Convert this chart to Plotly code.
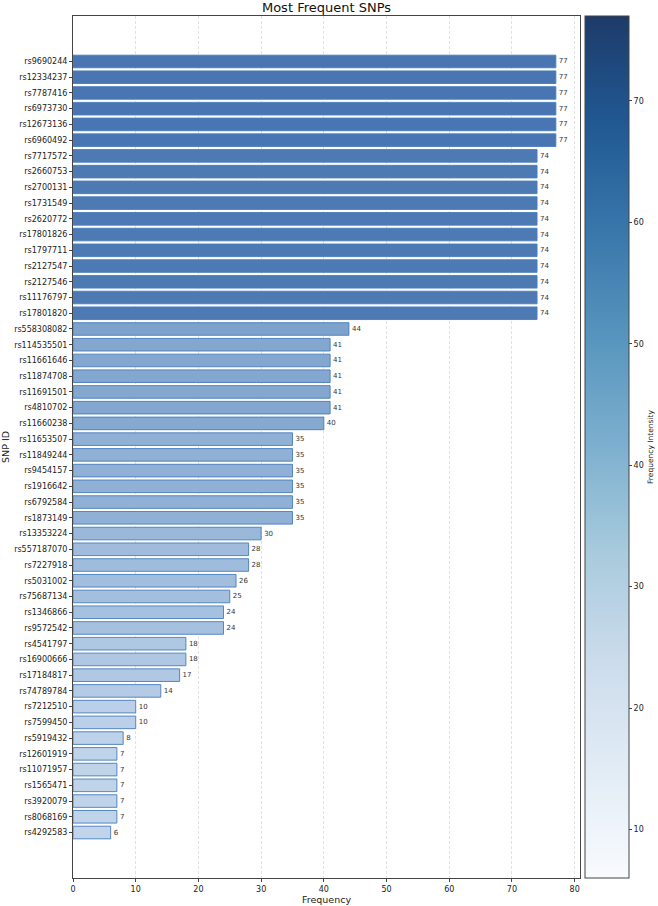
import plotly.graph_objects as go

snps = ["rs9690244","rs12334237","rs7787416","rs6973730","rs12673136","rs6960492",
        "rs7717572","rs2660753","rs2700131","rs1731549","rs2620772","rs17801826",
        "rs1797711","rs2127547","rs2127546","rs11176797","rs17801820","rs558308082",
        "rs114535501","rs11661646","rs11874708","rs11691501","rs4810702","rs11660238",
        "rs11653507","rs11849244","rs9454157","rs1916642","rs6792584","rs1873149",
        "rs13353224","rs557187070","rs7227918","rs5031002","rs75687134","rs1346866",
        "rs9572542","rs4541797","rs16900666","rs17184817","rs74789784","rs7212510",
        "rs7599450","rs5919432","rs12601919","rs11071957","rs1565471","rs3920079",
        "rs8068169","rs4292583"]
freqs = [77,77,77,77,77,77,
         74,74,74,74,74,74,74,74,74,74,74,
         44,41,41,41,41,41,40,
         35,35,35,35,35,35,
         30,28,28,26,25,24,24,18,18,17,14,10,10,8,7,7,7,7,7,6]

FONT = "DejaVu Sans"
vmin, vmax = min(freqs), max(freqs)

bar_scale = [[0.0, "rgb(193,212,234)"], [0.3, "rgb(160,189,221)"],
             [0.53, "rgb(126,163,204)"], [1.0, "rgb(73,118,178)"]]
blues_hex = [(0.0, "#f7fbff"), (0.125, "#deebf7"), (0.25, "#c6dbef"), (0.375, "#9ecae1"),
             (0.5, "#6baed6"), (0.625, "#4292c6"), (0.75, "#2171b5"), (0.875, "#08519c"),
             (1.0, "#08306b")]


def muted(h, g_mix=0.18, w_mix=0.06):
    r, g, b = int(h[1:3], 16), int(h[3:5], 16), int(h[5:7], 16)
    lum = 0.3 * r + 0.59 * g + 0.11 * b
    f = lambda c: int(round((c * (1 - g_mix) + lum * g_mix) * (1 - w_mix) + 255 * w_mix))
    return f"rgb({f(r)},{f(g)},{f(b)})"


blues = [[p, muted(h)] for p, h in blues_hex]

n = len(snps)
fig = go.Figure()
fig.add_trace(go.Bar(
    x=freqs, y=snps, orientation="h", width=0.8,
    marker=dict(color=freqs, colorscale=bar_scale, cmin=vmin, cmax=vmax,
                line=dict(color="rgba(70,125,190,0.9)", width=1)),
    text=[str(v) for v in freqs], textposition="outside", cliponaxis=False,
    textfont=dict(family=FONT, size=7, color="#333333"),
    showlegend=False, hoverinfo="x+y",
))
fig.add_trace(go.Scatter(
    x=[None], y=[None], mode="markers", showlegend=False,
    marker=dict(color=[vmin, vmax], cmin=vmin, cmax=vmax, colorscale=blues, showscale=True,
                colorbar=dict(x=1.0099, xanchor="left", xref="paper", y=0.5, yanchor="middle",
                              len=1.0, lenmode="fraction", thickness=44, thicknessmode="pixels",
                              outlinewidth=1, outlinecolor="#444444",
                              tickvals=[10, 20, 30, 40, 50, 60, 70], ticks="outside",
                              ticklen=3, tickcolor="#444444",
                              tickfont=dict(family=FONT, size=8, color="#222222"),
                              title=dict(text="Frequency Intensity", side="right",
                                         font=dict(family=FONT, size=7.5, color="#222222")),
                              xpad=0, ypad=0)),
))

fig.update_layout(
    width=658, height=906,
    margin=dict(l=73, r=78, t=16, b=28, autoexpand=False),
    paper_bgcolor="white", plot_bgcolor="white",
    title=dict(text="Most Frequent SNPs", x=0.5, xref="paper", xanchor="center",
               y=1 - 2.5 / 906, yref="container", yanchor="top", pad=dict(t=0),
               font=dict(family=FONT, size=13, color="#111111")),
    font=dict(family=FONT, size=9.5, color="#222222"),
    xaxis=dict(range=[0, 80.85], tickvals=[0, 10, 20, 30, 40, 50, 60, 70, 80], automargin=False,
               showgrid=True, gridcolor="rgba(200,200,200,0.55)", griddash="3px,2px", gridwidth=0.8,
               zeroline=False, showline=True, linecolor="#444444", linewidth=1, mirror=True,
               ticks="outside", ticklen=3, tickcolor="#444444",
               tickfont=dict(family=FONT, size=8, color="#222222"),
               title=dict(text="Frequency", standoff=2, font=dict(family=FONT, size=9.5))),
    yaxis=dict(type="category", categoryorder="array", categoryarray=snps, automargin=False,
               range=[n - 1 + 2.89, -2.89], showgrid=False, zeroline=False,
               showline=True, linecolor="#444444", linewidth=1, mirror=True,
               ticks="outside", ticklen=3, tickcolor="#444444",
               tickfont=dict(family=FONT, size=8, color="#222222"),
               title=dict(text="SNP ID", standoff=3, font=dict(family=FONT, size=9.5))),
    bargap=0.2,
)

fig.write_html("out.html")
